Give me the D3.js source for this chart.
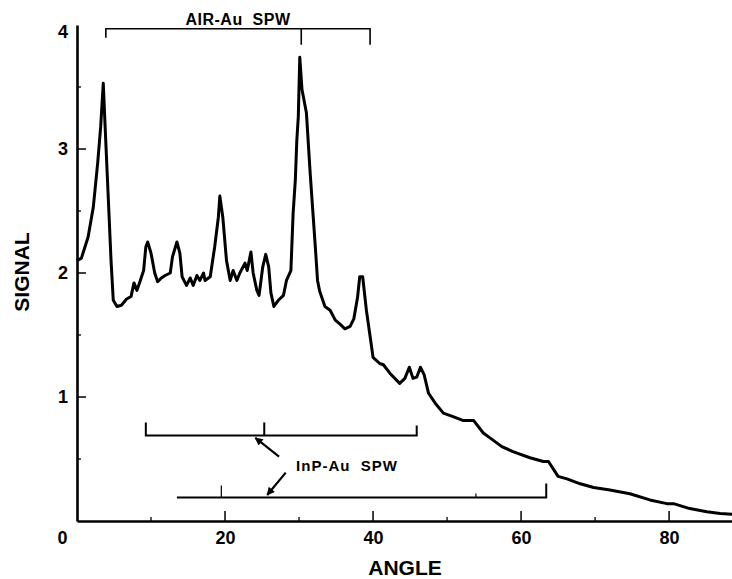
<!DOCTYPE html>
<html><head><meta charset="utf-8">
<script src="https://cdn.jsdelivr.net/npm/d3@7"></script>
<style>
html,body{margin:0;padding:0;background:#fff;}
svg text{font-family:"Liberation Sans",Arial,Helvetica,sans-serif;font-weight:bold;fill:#000;}
</style></head>
<body>
<svg id="chart" width="732" height="579"></svg>
<script>
// ---- data ----
const angle = [0.0,0.6,1.5,2.2,2.8,3.2,3.55,3.8,4.2,4.6,4.9,5.4,6.0,6.7,7.3,7.7,8.1,8.5,9.0,9.3,9.55,10.0,10.5,10.9,11.4,11.9,12.6,12.9,13.5,13.9,14.2,14.8,15.3,15.7,16.2,16.6,17.1,17.3,18.0,18.6,19.1,19.3,19.7,20.2,20.7,21.1,21.6,22.0,22.7,23.0,23.5,23.8,24.3,24.6,25.1,25.5,25.9,26.2,26.6,27.2,27.9,28.3,28.9,29.2,29.5,29.7,29.9,30.1,30.4,31.0,31.5,32.2,32.5,32.8,33.5,34.2,34.9,35.5,36.2,36.9,37.4,37.9,38.2,38.6,39.1,39.6,40.0,40.9,41.4,42.3,43.6,44.3,44.9,45.4,45.9,46.4,46.9,47.5,48.4,49.5,50.9,52.2,53.6,54.9,55.8,57.4,58.9,61.2,63.0,63.7,65.0,66.2,68.0,69.8,72.0,74.7,77.4,79.7,80.6,82.8,85.1,86.9,88.5];
const signal = [2.10,2.12,2.29,2.53,2.89,3.18,3.53,3.18,2.64,2.10,1.78,1.73,1.74,1.79,1.81,1.92,1.86,1.93,2.02,2.21,2.25,2.16,2.00,1.93,1.96,1.98,2.00,2.13,2.25,2.16,1.97,1.90,1.96,1.90,1.98,1.94,2.00,1.94,1.97,2.21,2.45,2.62,2.45,2.10,1.94,2.02,1.94,2.00,2.08,2.02,2.17,2.00,1.86,1.82,2.05,2.15,2.05,1.84,1.73,1.78,1.82,1.94,2.02,2.48,2.75,3.07,3.26,3.74,3.48,3.29,2.81,2.21,1.94,1.85,1.73,1.70,1.62,1.59,1.55,1.57,1.63,1.80,1.97,1.97,1.70,1.49,1.32,1.27,1.26,1.19,1.11,1.15,1.24,1.15,1.16,1.24,1.18,1.03,0.95,0.87,0.84,0.81,0.81,0.71,0.67,0.60,0.56,0.51,0.48,0.48,0.36,0.34,0.30,0.27,0.25,0.22,0.17,0.14,0.14,0.10,0.075,0.06,0.055];

const xTickLabels = [0,20,40,60,80];
const xMinorTicks = [10,30,50,70];
const yTickLabels = [1,2,3,4];
const yMinorTicks = [0.5,1.5,2.5,3.5];

// bracket annotations: [start, mid, end] angles and level (signal units)
const airBracket = {label:"AIR-Au  SPW", start:3.9, mid:30.3, end:39.6, level:3.97};
const inpBracket1 = {start:9.3, mid:25.3, end:45.9, level:0.69};
const inpBracket2 = {start:13.5, mid:19.5, minor2:53.9, end:63.4, level:0.19};
const inpLabel = {text:"InP-Au  SPW", x:29.6, y:0.44};
// arrows: tail -> head (angle, signal)
const arrows = [
  {x1:27.3, y1:0.52, x2:24.1, y2:0.67},
  {x1:28.2, y1:0.39, x2:25.7, y2:0.21}
];

// ---- layout ----
const svg = d3.select("#chart");
const x = d3.scaleLinear().domain([0, 88.5]).range([77, 732]);
const y = d3.scaleLinear().domain([0, 4]).range([521, 25]);

// arrow marker
svg.append("defs").append("marker")
  .attr("id","ah").attr("viewBox","0 0 10 10").attr("refX",9).attr("refY",5)
  .attr("markerWidth",10).attr("markerHeight",8).attr("markerUnits","userSpaceOnUse")
  .attr("orient","auto")
  .append("path").attr("d","M0,0 L10,5 L0,10 Z").attr("fill","#000");

// axes
const xAxis = d3.axisBottom(x).tickValues(xTickLabels).tickSize(0).tickPadding(10).tickFormat(d3.format("d"));
const gx = svg.append("g").attr("transform",`translate(0,${y(0)})`).call(xAxis);
gx.select(".domain").attr("stroke","#000").attr("stroke-width",2.6);
gx.selectAll("text").style("font-size","18px").attr("dy","0.72em");
gx.selectAll(".tick").filter(d=>d===0).select("text").attr("x",-15);

const yAxis = d3.axisLeft(y).tickValues(yTickLabels).tickSize(0).tickPadding(9).tickFormat(d3.format("d"));
const gy = svg.append("g").attr("transform",`translate(${x(0)},0)`).call(yAxis);
gy.select(".domain").attr("stroke","#000").attr("stroke-width",2.6);
gy.selectAll("text").style("font-size","18px");
gy.selectAll(".tick").filter(d=>d===4).select("text").attr("y",7);

// inward ticks
svg.append("g").selectAll("line").data(xTickLabels.filter(d=>d>0)).join("line")
  .attr("x1",d=>x(d)).attr("x2",d=>x(d)).attr("y1",y(0)).attr("y2",y(0)-10)
  .attr("stroke","#000").attr("stroke-width",1.5);
svg.append("g").selectAll("line").data(xMinorTicks).join("line")
  .attr("x1",d=>x(d)).attr("x2",d=>x(d)).attr("y1",y(0)).attr("y2",y(0)-4)
  .attr("stroke","#000").attr("stroke-width",1.3);
svg.append("g").selectAll("line").data(yTickLabels.filter(d=>d<4)).join("line")
  .attr("x1",x(0)).attr("x2",x(0)+9).attr("y1",d=>y(d)).attr("y2",d=>y(d))
  .attr("stroke","#000").attr("stroke-width",1.5);
svg.append("g").selectAll("line").data(yMinorTicks).join("line")
  .attr("x1",x(0)).attr("x2",x(0)+4).attr("y1",d=>y(d)).attr("y2",d=>y(d))
  .attr("stroke","#000").attr("stroke-width",1.3);

// axis titles
svg.append("text").attr("x",405).attr("y",575).attr("text-anchor","middle")
  .style("font-size","21px").text("ANGLE");
svg.append("text").attr("transform","translate(29,272) rotate(-90)").attr("text-anchor","middle")
  .style("font-size","21px").text("SIGNAL");

// curve
const pts = angle.map((a,i)=>[a, signal[i]]);
svg.append("path").datum(pts)
  .attr("d", d3.line().x(d=>x(d[0])).y(d=>y(d[1])).curve(d3.curveLinear))
  .attr("fill","none").attr("stroke","#000").attr("stroke-width",3).attr("stroke-linejoin","round");

// AIR-Au bracket
const br = svg.append("g").attr("fill","none").attr("stroke","#000").attr("stroke-width",1.6);
br.append("path").attr("d",
  `M${x(airBracket.start)},${y(airBracket.level)+9} V${y(airBracket.level)} H${x(airBracket.end)} V${y(airBracket.level)+16}`);
br.append("line").attr("x1",x(airBracket.mid)).attr("x2",x(airBracket.mid))
  .attr("y1",y(airBracket.level)).attr("y2",y(airBracket.level)+16);
svg.append("text").attr("x",x((airBracket.start+airBracket.end)/2)).attr("y",y(airBracket.level)-4)
  .attr("text-anchor","middle").style("font-size","16px").style("letter-spacing","0.5px")
  .style("white-space","pre").text(airBracket.label);

// InP brackets
const b1 = svg.append("g").attr("fill","none").attr("stroke","#000").attr("stroke-width",2);
b1.append("path").attr("d",
  `M${x(inpBracket1.start)},${y(inpBracket1.level)-13} V${y(inpBracket1.level)} H${x(inpBracket1.end)} V${y(inpBracket1.level)-10}`);
b1.append("line").attr("x1",x(inpBracket1.mid)).attr("x2",x(inpBracket1.mid))
  .attr("y1",y(inpBracket1.level)).attr("y2",y(inpBracket1.level)-13);
const b2 = svg.append("g").attr("fill","none").attr("stroke","#000").attr("stroke-width",2);
b2.append("path").attr("d",
  `M${x(inpBracket2.start)},${y(inpBracket2.level)} H${x(inpBracket2.end)} V${y(inpBracket2.level)-14}`);
b2.append("line").attr("x1",x(inpBracket2.mid)).attr("x2",x(inpBracket2.mid))
  .attr("y1",y(inpBracket2.level)).attr("y2",y(inpBracket2.level)-12).attr("stroke-width",1.2);
b2.append("line").attr("x1",x(inpBracket2.minor2)).attr("x2",x(inpBracket2.minor2))
  .attr("y1",y(inpBracket2.level)).attr("y2",y(inpBracket2.level)-4).attr("stroke-width",1.2);

svg.append("text").attr("x",x(inpLabel.x)).attr("y",y(inpLabel.y)+5)
  .style("font-size","15px").style("letter-spacing","1px").style("white-space","pre").text(inpLabel.text);

svg.append("g").selectAll("line").data(arrows).join("line")
  .attr("x1",d=>x(d.x1)).attr("y1",d=>y(d.y1)).attr("x2",d=>x(d.x2)).attr("y2",d=>y(d.y2))
  .attr("stroke","#000").attr("stroke-width",2.2).attr("marker-end","url(#ah)");
</script>
</body></html>
